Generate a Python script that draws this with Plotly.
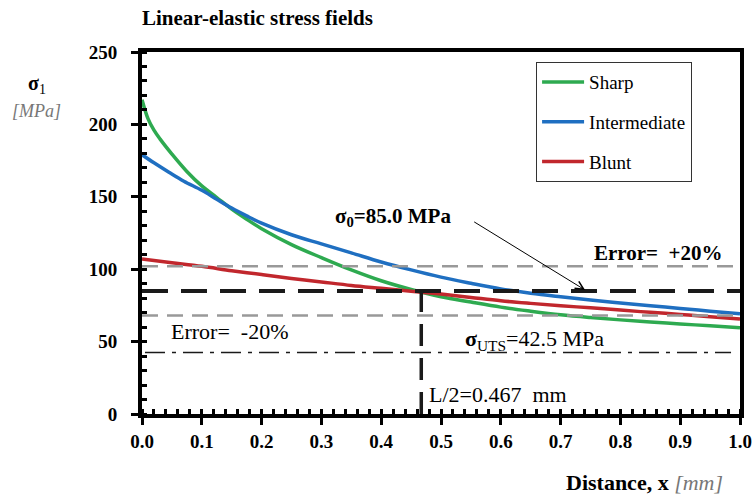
import plotly.graph_objects as go

# ---- data ----
x_sharp = [0, 0.01, 0.02, 0.03, 0.05, 0.075, 0.1, 0.125, 0.15, 0.175, 0.2, 0.25, 0.3, 0.35,
           0.4, 0.45, 0.5, 0.55, 0.6, 0.65, 0.7, 0.75, 0.8, 0.85, 0.9, 0.95, 1.0]
y_sharp = [217, 204, 196, 190, 179.5, 167.5, 157.5, 149.5, 141.5, 134.5, 128, 117, 108, 99.5,
           92, 86, 81, 77.3, 73.8, 71, 68.5, 66.6, 65, 63.5, 62.2, 60.9, 59.6]

x_inter = [0, 0.02, 0.045, 0.07, 0.1, 0.125, 0.15, 0.175, 0.2, 0.25, 0.3, 0.35, 0.4, 0.45,
           0.5, 0.55, 0.6, 0.65, 0.7, 0.75, 0.8, 0.85, 0.9, 0.95, 1.0]
y_inter = [179, 173.5, 167, 160.8, 154.5, 148.3, 142.2, 136.8, 131.8, 123.8, 117.5, 111.3, 105, 99.5,
           94.5, 90.3, 86.4, 83.4, 81, 78.8, 76.7, 74.8, 72.9, 71, 69.2]

x_blunt = [0, 0.05, 0.1, 0.15, 0.2, 0.25, 0.3, 0.35, 0.4, 0.45, 0.5, 0.55, 0.6, 0.65,
           0.7, 0.75, 0.8, 0.85, 0.9, 0.95, 1.0]
y_blunt = [107, 104.5, 102, 99, 96.3, 93.6, 91.2, 88.8, 86.8, 84.8, 82.8, 80.5, 78.2, 76.4,
           74.8, 73.3, 71.8, 70.2, 68.8, 67.2, 65.6]

series_names = ["Sharp", "Intermediate", "Blunt"]
series_colors = ["#2EAA50", "#1F6FC1", "#C1272D"]

SIGMA0 = 85.0
ERROR = 0.20
SIGMA_UTS = 42.5
L_HALF = 0.467
X_MIN, X_MAX = 0.0, 1.0
Y_MIN, Y_MAX = 0, 250
x_ticks = [0.0, 0.1, 0.2, 0.3, 0.4, 0.5, 0.6, 0.7, 0.8, 0.9, 1.0]
x_tick_labels = ["0.0", "0.1", "0.2", "0.3", "0.4", "0.5", "0.6", "0.7", "0.8", "0.9", "1.0"]
y_ticks = [0, 50, 100, 150, 200, 250]

FONT = "'Liberation Serif', 'Times New Roman', Times, serif"

fig = go.Figure()
for xs, ys, name, col in zip([x_sharp, x_inter, x_blunt], [y_sharp, y_inter, y_blunt],
                             series_names, series_colors):
    fig.add_trace(go.Scatter(x=xs, y=ys, mode="lines", name=name, legendgroup=name,
                             line=dict(color=col, width=3.5, shape="spline", smoothing=1.0)))

# reference lines
fig.add_shape(type="line", x0=X_MIN, x1=X_MAX, y0=SIGMA0 * (1 + ERROR), y1=SIGMA0 * (1 + ERROR),
              line=dict(color="#999999", width=2.5, dash="16px,9px"), layer="above")
fig.add_shape(type="line", x0=X_MIN, x1=X_MAX, y0=SIGMA0 * (1 - ERROR), y1=SIGMA0 * (1 - ERROR),
              line=dict(color="#999999", width=2.5, dash="16px,9px"), layer="above")
fig.add_shape(type="line", x0=X_MIN, x1=X_MAX, y0=SIGMA0, y1=SIGMA0,
              line=dict(color="#1a1a1a", width=4, dash="26px,13px"), layer="above")
fig.add_shape(type="line", x0=X_MIN + 0.005, x1=X_MAX - 0.015, y0=SIGMA_UTS, y1=SIGMA_UTS,
              line=dict(color="#1a1a1a", width=1.5, dash="20px,7px,4px,7px"), layer="above")
fig.add_shape(type="line", x0=L_HALF, x1=L_HALF, y0=Y_MIN, y1=SIGMA0,
              line=dict(color="#1a1a1a", width=3.5, dash="22px,12px"), layer="above")

bold_font = dict(family=FONT, size=21, color="black")
reg_font = dict(family=FONT, size=22, color="black")
fig.add_annotation(x=0.319, y=136, xref="x", yref="y", xanchor="left", yanchor="middle",
                   text="<b>σ<sub>0</sub>=85.0 MPa</b>", showarrow=False, font=bold_font)
fig.add_annotation(x=0.741, y=85.6, xref="x", yref="y", ax=0.553, ay=133.3, axref="x", ayref="y",
                   text="", showarrow=True, arrowhead=5, arrowsize=1.6, arrowwidth=1, arrowcolor="black")
fig.add_annotation(x=0.975, y=111, xref="x", yref="y", xanchor="right", yanchor="middle",
                   text="<b>Error=  +20%</b>", showarrow=False, font=bold_font)
fig.add_annotation(x=0.045, y=57.3, xref="x", yref="y", xanchor="left", yanchor="middle",
                   text="Error=  -20%", showarrow=False, font=reg_font)
fig.add_annotation(x=0.536, y=51, xref="x", yref="y", xanchor="left", yanchor="middle",
                   text="<b>σ</b><sub>UTS</sub>=42.5 MPa", showarrow=False, font=reg_font)
fig.add_annotation(x=0.476, y=13.5, xref="x", yref="y", xanchor="left", yanchor="middle",
                   text="L/2=0.467  mm", showarrow=False, font=reg_font)

# axis titles
fig.add_annotation(x=-0.176, y=0.909, xref="paper", yref="paper", xanchor="center", yanchor="middle",
                   text="<b>σ</b><sub>1</sub>", showarrow=False, font=dict(family=FONT, size=20, color="black"))
fig.add_annotation(x=-0.177, y=0.836, xref="paper", yref="paper", xanchor="center", yanchor="middle",
                   text="<i>[MPa]</i>", showarrow=False, font=dict(family=FONT, size=18, color="#777777"))
fig.add_annotation(x=0.975, y=-0.188, xref="paper", yref="paper", xanchor="right", yanchor="middle",
                   text="<b>Distance, x</b> <span style='color:#777777'><i>[mm]</i></span>",
                   showarrow=False, font=dict(family=FONT, size=22, color="black"))

fig.update_layout(
    width=755, height=500,
    margin=dict(l=142, r=15, t=52, b=86, autoexpand=False),
    paper_bgcolor="white", plot_bgcolor="white",
    title=dict(text="<b>Linear-elastic stress fields</b>", x=142 / 755, xanchor="left",
               y=1 - 18 / 500, yanchor="middle", font=dict(family=FONT, size=21, color="black")),
    legend=dict(x=0.659, y=0.972, xanchor="left", yanchor="top", bgcolor="white",
                bordercolor="#333333", borderwidth=1, font=dict(family=FONT, size=19, color="black"),
                tracegroupgap=12, itemwidth=42),
    showlegend=True,
)
fig.update_xaxes(range=[X_MIN, X_MAX], tickvals=x_ticks, ticktext=x_tick_labels, automargin=False,
                 showgrid=False, zeroline=False, showline=True, linewidth=4, linecolor="black",
                 mirror=True, ticks="outside", ticklen=7, tickwidth=3, tickcolor="black",
                 tickfont=dict(family=FONT, size=19, color="black", weight="bold"),
                 minor=dict(dtick=0.02, ticks="inside", ticklen=5, tickwidth=2.5, tickcolor="black"))
fig.update_yaxes(range=[Y_MIN, Y_MAX], tickvals=y_ticks, automargin=False,
                 showgrid=False, zeroline=False, showline=True, linewidth=4, linecolor="black",
                 mirror=True, ticks="outside", ticklen=7, tickwidth=3, tickcolor="black",
                 ticklabelstandoff=10,
                 tickfont=dict(family=FONT, size=19, color="black", weight="bold"),
                 minor=dict(dtick=10, ticks="inside", ticklen=5, tickwidth=2.5, tickcolor="black"))

fig.write_html("out.html")
